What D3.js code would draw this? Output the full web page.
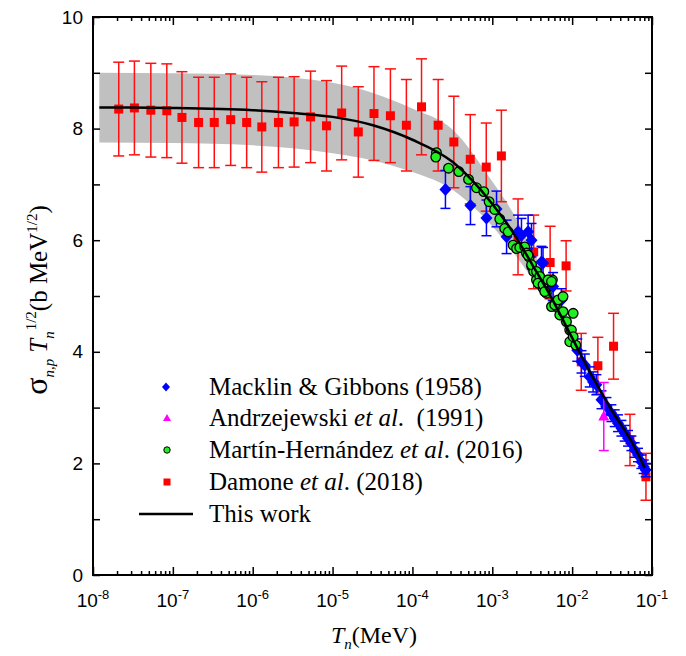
<!DOCTYPE html>
<html>
<head>
<meta charset="utf-8">
<script src="https://cdn.jsdelivr.net/npm/d3@7"></script>
<style>
  body { margin: 0; background: #fff; }
  text { font-family: "Liberation Serif", "Times New Roman", serif; }
  .tick-label { font-family: "Liberation Sans", Arial, sans-serif; font-size: 19px; }
</style>
</head>
<body>
<svg id="chart" width="686" height="656"></svg>
<script>
// Damone et al. (2018)
const damoneT = [2.1e-8, 3.3e-8, 5.3e-8, 8.4e-8, 1.3e-7, 2.1e-7, 3.3e-7, 5.3e-7, 8.4e-7,
  1.3e-6, 2.1e-6, 3.3e-6, 5.3e-6, 8.4e-6, 1.3e-5, 2.1e-5, 3.3e-5, 5.3e-5, 8.4e-5,
  1.3e-4, 2.1e-4, 3.3e-4, 5.3e-4, 8.4e-4, 1.3e-3, 2.1e-3, 3.3e-3, 5.3e-3, 8.4e-3,
  1.3e-2, 2.1e-2, 3.3e-2, 5.3e-2, 8.4e-2];
const damoneVal = [8.35, 8.37, 8.33, 8.32, 8.20, 8.11, 8.11, 8.16, 8.11,
  8.03, 8.11, 8.12, 8.21, 8.05, 8.28, 7.94, 8.27, 8.23, 8.06,
  8.39, 8.06, 7.76, 7.45, 7.31, 7.51, 6.06, 5.79, 5.60, 5.54,
  3.82, 3.75, 4.10, 2.42, 1.76];
const damoneErr = [0.84, 0.84, 0.84, 0.84, 0.82, 0.81, 0.81, 0.82, 0.81,
  0.81, 0.81, 0.81, 0.82, 0.81, 0.84, 0.81, 0.84, 0.84, 0.82,
  0.86, 0.82, 0.82, 0.80, 0.79, 0.82, 0.68, 0.66, 0.65, 0.45,
  0.51, 0.51, 0.59, 0.46, 0.42];

// Macklin & Gibbons (1958)
const macklinT = [2.59e-4, 5.33e-4, 8.45e-4, 1.13e-3, 1.51e-3, 2.10e-3, 2.32e-3, 2.81e-3, 3.10e-3,
  4.13e-3, 4.32e-3, 5.77e-3, 7.35e-3, 1.16e-2, 1.31e-2, 1.44e-2, 1.66e-2, 1.83e-2, 2.01e-2,
  2.33e-2, 2.69e-2, 3.10e-2, 3.41e-2, 3.75e-2, 4.14e-2, 4.55e-2, 5.01e-2, 5.52e-2, 6.07e-2,
  6.68e-2, 7.36e-2, 7.87e-2, 8.34e-2];
const macklinVal = [6.91, 6.62, 6.40, 6.56, 6.06, 6.15, 6.09, 6.15, 6.00,
  5.61, 5.59, 5.17, 4.93, 4.03, 3.82, 3.76, 3.55, 3.46, 3.41,
  3.14, 3.02, 2.90, 2.81, 2.72, 2.63, 2.54, 2.45, 2.36, 2.24,
  2.15, 2.03, 1.94, 1.88];
const macklinErr = [0.34, 0.34, 0.32, 0.32, 0.30, 0.30, 0.30, 0.30, 0.30,
  0.28, 0.28, 0.25, 0.20, 0.20, 0.20, 0.20, 0.18, 0.18, 0.18,
  0.16, 0.16, 0.15, 0.15, 0.15, 0.14, 0.14, 0.14, 0.13, 0.13,
  0.12, 0.12, 0.12, 0.12];

// Andrzejewski et al. (1991)
const andrzT = [2.49e-2];
const andrzVal = [2.84];
const andrzErr = [0.61];

// Martin-Hernandez et al. (2016)
const martinT = [2.00e-4, 1.96e-4, 2.83e-4, 3.81e-4, 5.04e-4, 6.34e-4, 7.83e-4, 9.12e-4, 1.07e-3,
  1.24e-3, 1.43e-3, 1.58e-3, 1.82e-3, 2.01e-3, 2.21e-3, 2.55e-3, 2.68e-3, 2.89e-3, 3.12e-3,
  3.30e-3, 3.57e-3, 3.93e-3, 4.32e-3, 4.76e-3, 5.35e-3, 5.66e-3, 6.05e-3, 6.35e-3, 2.80e-3,
  3.10e-3, 3.57e-3, 3.93e-3, 3.74e-3, 4.32e-3, 4.54e-3, 4.99e-3, 5.51e-3, 5.51e-3, 6.05e-3,
  6.67e-3, 7.69e-3, 7.00e-3, 7.69e-3, 8.49e-3, 9.33e-3, 1.03e-2, 9.79e-3, 9.33e-3, 1.11e-2, 1.03e-2];
const martinVal = [7.57, 7.49, 7.29, 7.23, 7.09, 6.94, 6.87, 6.69, 6.55,
  6.38, 6.21, 6.15, 5.91, 5.85, 5.87, 5.88, 5.77, 5.70, 5.53,
  5.44, 5.29, 5.23, 5.14, 5.05, 5.26, 5.29, 4.87, 4.81, 5.73,
  5.56, 5.44, 5.35, 5.23, 5.20, 5.08, 5.29, 5.26, 4.81, 4.84,
  4.93, 4.99, 4.66, 4.72, 4.54, 4.39, 4.69, 4.39, 4.18, 4.12, 4.27];

// This work: curve and uncertainty band
const fitT = [1.2e-8, 1e-7, 1e-6, 3.2e-6, 1e-5, 3.2e-5, 1e-4, 3.2e-4, 1e-3,
  1.8e-3, 3.2e-3, 5.6e-3, 1e-2, 1.8e-2, 3.2e-2, 5.6e-2, 8.1e-2];
const fitVal = [8.38, 8.37, 8.33, 8.28, 8.21, 8.06, 7.80, 7.40, 6.65,
  6.15, 5.55, 4.95, 4.25, 3.55, 2.93, 2.38, 1.92];
const bandLow = [7.75, 7.74, 7.70, 7.65, 7.56, 7.43, 7.22, 6.90, 6.25,
  5.80, 5.30, 4.78, 4.15, 3.45, 2.85, 2.30, 1.85];
const bandHigh = [9.00, 8.99, 8.96, 8.91, 8.82, 8.64, 8.36, 7.98, 7.05,
  6.50, 5.82, 5.12, 4.38, 3.62, 3.00, 2.44, 1.97];

// axis ticks
const xMajor = [1e-8, 1e-7, 1e-6, 1e-5, 1e-4, 1e-3, 1e-2, 1e-1];
const xExponents = ['-8', '-7', '-6', '-5', '-4', '-3', '-2', '-1'];
const yTicks = [0, 1, 2, 3, 4, 5, 6, 7, 8, 9, 10];
const yLabels = [0, 2, 4, 6, 8, 10];

const svg = d3.select('#chart');
const plotLeft = 93, plotRight = 652, plotTop = 17, plotBottom = 575;

const x = d3.scaleLog().domain([1e-8, 1e-1]).range([plotLeft, plotRight]);
const y = d3.scaleLinear().domain([0, 10]).range([plotBottom, plotTop]);

// minor ticks 2..9 inside each decade
let xMinor = [];
for (let i = 0; i < xMajor.length - 1; i++) {
  for (let m = 2; m <= 9; m++) xMinor.push(xMajor[i] * m);
}

// band
const band = d3.area()
  .x((d, i) => x(fitT[i]))
  .y0((d, i) => y(bandLow[i]))
  .y1((d, i) => y(bandHigh[i]))
  .curve(d3.curveMonotoneX);
svg.append('path').datum(fitT).attr('d', band).attr('fill', '#c0c0c0');

// axes (ticks pointing inward)
function styleAxis(g) {
  g.select('.domain').remove();
  g.selectAll('line').attr('stroke', '#000').attr('stroke-width', 1.5);
}
svg.append('g').attr('transform', `translate(0,${plotBottom})`)
  .call(d3.axisBottom(x).tickValues(xMajor).tickSize(-8).tickFormat('')).call(styleAxis);
svg.append('g').attr('transform', `translate(0,${plotBottom})`)
  .call(d3.axisBottom(x).tickValues(xMinor).tickSize(-4).tickFormat('')).call(styleAxis);
svg.append('g').attr('transform', `translate(0,${plotTop})`)
  .call(d3.axisTop(x).tickValues(xMajor).tickSize(-8).tickFormat('')).call(styleAxis);
svg.append('g').attr('transform', `translate(0,${plotTop})`)
  .call(d3.axisTop(x).tickValues(xMinor).tickSize(-4).tickFormat('')).call(styleAxis);
svg.append('g').attr('transform', `translate(${plotLeft},0)`)
  .call(d3.axisLeft(y).tickValues(yTicks).tickSize(-7).tickFormat('')).call(styleAxis);
svg.append('g').attr('transform', `translate(${plotRight},0)`)
  .call(d3.axisRight(y).tickValues(yTicks).tickSize(-7).tickFormat('')).call(styleAxis);

// tick labels
svg.append('g').selectAll('text').data(yLabels).join('text')
  .attr('class', 'tick-label')
  .attr('x', plotLeft - 10).attr('y', d => y(d)).attr('dy', '0.35em')
  .attr('text-anchor', 'end').text(d => d);

const xl = svg.append('g').selectAll('text').data(xMajor).join('text')
  .attr('class', 'tick-label')
  .attr('x', d => x(d)).attr('y', 607).attr('text-anchor', 'middle');
xl.append('tspan').text('10');
xl.append('tspan').attr('dy', -8).style('font-size', '13px').text((d, i) => xExponents[i]);

// error bar helper
function errorBars(T, V, E, color, cap) {
  const g = svg.append('g').attr('stroke', color).attr('stroke-width', 1.5).attr('fill', 'none');
  T.forEach((t, i) => {
    const cx = x(t), y0 = y(V[i] - E[i]), y1 = y(V[i] + E[i]);
    g.append('line').attr('x1', cx).attr('x2', cx).attr('y1', y0).attr('y2', y1);
    g.append('line').attr('x1', cx - cap).attr('x2', cx + cap).attr('y1', y0).attr('y2', y0);
    g.append('line').attr('x1', cx - cap).attr('x2', cx + cap).attr('y1', y1).attr('y2', y1);
  });
}

// Damone
errorBars(damoneT, damoneVal, damoneErr, '#ff1010', 5.5);
svg.append('g').selectAll('rect').data(damoneT).join('rect')
  .attr('x', d => x(d) - 4.5).attr('y', (d, i) => y(damoneVal[i]) - 4.5)
  .attr('width', 9).attr('height', 9).attr('fill', '#ff0000');

// Macklin
errorBars(macklinT, macklinVal, macklinErr, '#0000ff', 5);
svg.append('g').selectAll('path').data(macklinT).join('path')
  .attr('transform', (d, i) => `translate(${x(d)},${y(macklinVal[i])})`)
  .attr('d', 'M0,-6.5L6,0L0,6.5L-6,0Z').attr('fill', '#0000ff');

// Andrzejewski
errorBars(andrzT, andrzVal, andrzErr, '#ff00ff', 5);
svg.append('g').selectAll('path').data(andrzT).join('path')
  .attr('transform', (d, i) => `translate(${x(d)},${y(andrzVal[i])})`)
  .attr('d', 'M0,-6L5.5,4L-5.5,4Z').attr('fill', '#ff00ff');

// Martin-Hernandez
svg.append('g').selectAll('circle').data(martinT).join('circle')
  .attr('cx', d => x(d)).attr('cy', (d, i) => y(martinVal[i])).attr('r', 4.8)
  .attr('fill', '#22ee22').attr('stroke', '#000').attr('stroke-width', 1.3);

// This work
const line = d3.line().x((d, i) => x(fitT[i])).y((d, i) => y(fitVal[i])).curve(d3.curveMonotoneX);
svg.append('path').datum(fitT).attr('d', line)
  .attr('fill', 'none').attr('stroke', '#000').attr('stroke-width', 2.5);

// frame
svg.append('rect').attr('x', plotLeft).attr('y', plotTop)
  .attr('width', plotRight - plotLeft).attr('height', plotBottom - plotTop)
  .attr('fill', 'none').attr('stroke', '#000').attr('stroke-width', 2);

// legend
const legendY = [387, 418, 450, 482, 514];
const lg = svg.append('g');
lg.append('path').attr('transform', `translate(166,${legendY[0]})`).attr('d', 'M0,-4.5L4,0L0,4.5L-4,0Z').attr('fill', '#0000ff');
lg.append('path').attr('transform', `translate(167,${legendY[1]})`).attr('d', 'M0,-4L4,3L-4,3Z').attr('fill', '#ff00ff');
lg.append('circle').attr('cx', 167).attr('cy', legendY[2]).attr('r', 3.2).attr('fill', '#22ee22').attr('stroke', '#000').attr('stroke-width', 1);
lg.append('rect').attr('x', 163.5).attr('y', legendY[3] - 3.5).attr('width', 7).attr('height', 7).attr('fill', '#ff0000');
lg.append('line').attr('x1', 139).attr('x2', 193).attr('y1', legendY[4]).attr('y2', legendY[4]).attr('stroke', '#000').attr('stroke-width', 2.5);

const legendText = [
  [['Macklin & Gibbons (1958)', false]],
  [['Andrzejewski ', false], ['et al', true], ['.  (1991)', false]],
  [['Martín-Hernández ', false], ['et al', true], ['. (2016)', false]],
  [['Damone ', false], ['et al', true], ['. (2018)', false]],
  [['This work', false]]
];
legendText.forEach((parts, i) => {
  const t = lg.append('text').attr('x', 209).attr('y', legendY[i] + 8)
    .style('font-size', '25px').style('white-space', 'pre');
  parts.forEach(p => t.append('tspan').style('font-style', p[1] ? 'italic' : 'normal').text(p[0]));
});

// axis titles
const xt = svg.append('text').attr('x', 374).attr('y', 643).attr('text-anchor', 'middle').style('font-size', '24px');
xt.append('tspan').style('font-style', 'italic').text('T');
xt.append('tspan').style('font-style', 'italic').style('font-size', '15px').attr('dy', 6).text('n');
xt.append('tspan').attr('dy', -6).text('(MeV)');

const yt = svg.append('text').attr('transform', 'translate(47,300) rotate(-90)')
  .attr('text-anchor', 'middle').style('font-size', '25px');
yt.append('tspan').style('font-size', '32px').text('σ');
yt.append('tspan').style('font-style', 'italic').style('font-size', '15px').attr('dy', 7).text('n,p');
yt.append('tspan').style('font-style', 'italic').attr('dy', -7).attr('dx', 6).text('T');
yt.append('tspan').style('font-style', 'italic').style('font-size', '15px').attr('dy', 7).text('n');
yt.append('tspan').style('font-size', '15px').attr('dy', -18).attr('dx', 1).text('1/2');
yt.append('tspan').attr('dy', 11).text('(b MeV');
yt.append('tspan').style('font-size', '15px').attr('dy', -10).text('1/2');
yt.append('tspan').attr('dy', 10).text(')');
</script>
</body>
</html>
